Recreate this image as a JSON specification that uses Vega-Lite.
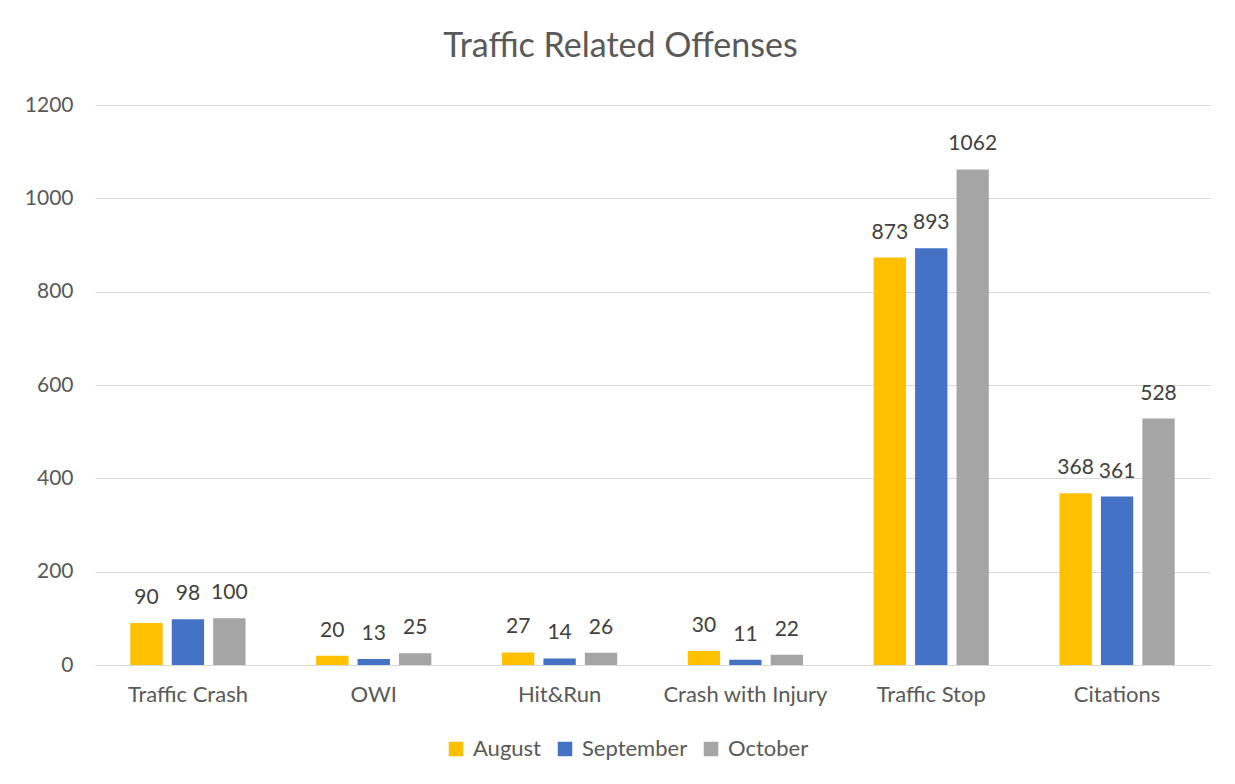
{
  "$schema": "https://vega.github.io/schema/vega-lite/v6.json",
  "autosize": "none",
  "width": 1115,
  "height": 560,
  "padding": {"left": 95, "top": 105, "right": 25, "bottom": 119},
  "background": "white",
  "title": {"text": "Traffic Related Offenses", "fontSize": 34, "font": "Lato", "fontWeight": "normal", "color": "#595959", "anchor": "middle", "offset": 30, "dx": -32},
  "data": {"values": [
    {"cat": "Traffic Crash", "month": "August", "v": 90},
    {"cat": "Traffic Crash", "month": "September", "v": 98},
    {"cat": "Traffic Crash", "month": "October", "v": 100},
    {"cat": "OWI", "month": "August", "v": 20},
    {"cat": "OWI", "month": "September", "v": 13},
    {"cat": "OWI", "month": "October", "v": 25},
    {"cat": "Hit&Run", "month": "August", "v": 27},
    {"cat": "Hit&Run", "month": "September", "v": 14},
    {"cat": "Hit&Run", "month": "October", "v": 26},
    {"cat": "Crash with Injury", "month": "August", "v": 30},
    {"cat": "Crash with Injury", "month": "September", "v": 11},
    {"cat": "Crash with Injury", "month": "October", "v": 22},
    {"cat": "Traffic Stop", "month": "August", "v": 873},
    {"cat": "Traffic Stop", "month": "September", "v": 893},
    {"cat": "Traffic Stop", "month": "October", "v": 1062},
    {"cat": "Citations", "month": "August", "v": 368},
    {"cat": "Citations", "month": "September", "v": 361},
    {"cat": "Citations", "month": "October", "v": 528}
  ]},
  "encoding": {
    "x": {"field": "cat", "type": "nominal", "sort": null,
      "scale": {"paddingInner": 0.38, "paddingOuter": 0.19},
      "axis": {"title": null, "labelAngle": 0, "labelFontSize": 22, "labelColor": "#595959", "labelFont": "Lato", "ticks": false, "domainColor": "#d9d9d9", "labelPadding": 19}},
    "xOffset": {"field": "month", "type": "nominal", "sort": ["August", "September", "October"], "scale": {"paddingInner": 0.22}},
    "y": {"field": "v", "type": "quantitative",
      "scale": {"domain": [0, 1200]},
      "axis": {"title": null, "values": [0, 200, 400, 600, 800, 1000, 1200], "format": "d", "labelFontSize": 21, "labelColor": "#595959", "labelFont": "Lato", "ticks": false, "domain": false, "gridColor": "#d9d9d9", "labelPadding": 22}}
  },
  "layer": [
    {"mark": {"type": "bar"},
     "encoding": {"color": {"field": "month", "type": "nominal", "sort": ["August", "September", "October"],
        "scale": {"domain": ["August", "September", "October"], "range": ["#FFC000", "#4472C4", "#A5A5A5"]},
        "legend": {"title": null, "orient": "none", "legendX": 350, "legendY": 633, "direction": "horizontal", "symbolType": "square", "symbolSize": 210, "labelFontSize": 22, "labelColor": "#595959", "labelFont": "Lato", "columnPadding": 12, "labelOffset": 6, "symbolStrokeWidth": 0}}}},
    {"mark": {"type": "text", "dy": -25, "fontSize": 21, "font": "Lato", "color": "#404040"},
     "encoding": {"text": {"field": "v", "type": "quantitative"}}}
  ],
  "config": {"view": {"stroke": null}}
}
